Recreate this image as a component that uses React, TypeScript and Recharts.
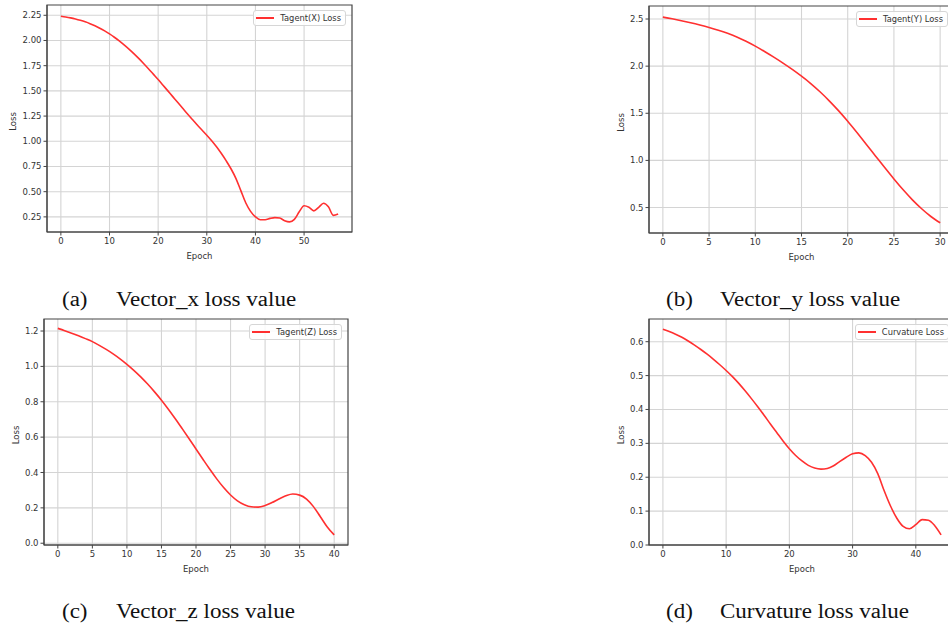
import { LineChart, Line, XAxis, YAxis, CartesianGrid, Legend, ReferenceArea } from 'recharts'

// loss per epoch
const tangentXLoss = [
  2.24, 2.233, 2.224, 2.213, 2.2, 2.185, 2.167, 2.146, 2.122, 2.095,
  2.065, 2.032, 1.996, 1.957, 1.915, 1.87, 1.822, 1.772, 1.72, 1.666,
  1.612, 1.556, 1.5, 1.443, 1.387, 1.33, 1.273, 1.218, 1.164, 1.112,
  1.06, 1.005, 0.945, 0.878, 0.805, 0.725, 0.63, 0.51, 0.39, 0.305,
  0.25, 0.222, 0.222, 0.235, 0.243, 0.238, 0.212, 0.2, 0.225, 0.3,
  0.36, 0.345, 0.31, 0.345, 0.385, 0.35, 0.265, 0.278,
]
const tangentYLoss = [
  2.52, 2.502, 2.482, 2.46, 2.436, 2.41, 2.381, 2.348, 2.31, 2.264,
  2.212, 2.155, 2.095, 2.032, 1.965, 1.893, 1.815, 1.728, 1.632, 1.528,
  1.415, 1.295, 1.172, 1.048, 0.924, 0.803, 0.688, 0.582, 0.487, 0.405,
  0.338,
]
const tangentZLoss = [
  1.215, 1.202, 1.188, 1.173, 1.157, 1.14, 1.119, 1.096, 1.071, 1.043,
  1.012, 0.978, 0.941, 0.9, 0.856, 0.809, 0.758, 0.704, 0.648, 0.591,
  0.533, 0.475, 0.418, 0.364, 0.315, 0.273, 0.24, 0.218, 0.206, 0.204,
  0.213, 0.23, 0.25, 0.268, 0.278, 0.272, 0.25, 0.207, 0.15, 0.092,
  0.047,
]
const curvatureLoss = [
  0.637, 0.63, 0.622, 0.613, 0.602, 0.59, 0.577, 0.563, 0.548, 0.532,
  0.515, 0.497, 0.477, 0.455, 0.432, 0.408, 0.383, 0.357, 0.332, 0.307,
  0.284, 0.264, 0.248, 0.235, 0.227, 0.224, 0.226, 0.234, 0.247, 0.259,
  0.269, 0.272, 0.264, 0.244, 0.21, 0.16, 0.115, 0.079, 0.055, 0.048,
  0.06, 0.075, 0.073, 0.057, 0.03,
]

const xTicksA = [0, 10, 20, 30, 40, 50]
const yTicksA = [0.25, 0.5, 0.75, 1.0, 1.25, 1.5, 1.75, 2.0, 2.25]
const xTicksB = [0, 5, 10, 15, 20, 25, 30]
const yTicksB = [0.5, 1.0, 1.5, 2.0, 2.5]
const xTicksC = [0, 5, 10, 15, 20, 25, 30, 35, 40]
const yTicksC = [0, 0.2, 0.4, 0.6, 0.8, 1.0, 1.2]
const xTicksD = [0, 10, 20, 30, 40]
const yTicksD = [0, 0.1, 0.2, 0.3, 0.4, 0.5, 0.6]

const RED = '#ff3030'
const SANS = '"DejaVu Sans", sans-serif'
const SERIF = '"Liberation Serif", "Times New Roman", serif'

type Rect = { x0: number; y0: number; x1: number; y1: number }

type PanelProps = {
  values: number[]
  name: string
  left: number
  top: number
  width: number
  height: number
  plot: Rect
  xDomain: [number, number]
  yDomain: [number, number]
  xTicks: number[]
  yTicks: number[]
  digits: number
  lossGap: number
}

function LegendBox({ payload }: any) {
  const item = payload && payload[0]
  if (!item) return null
  return (
    <div
      style={{
        display: 'flex', alignItems: 'center', height: 14, padding: '0 4px 0 2px',
        border: '1px solid #d6d6d6', borderRadius: 3, background: 'rgba(255,255,255,0.85)',
        fontFamily: SANS, fontSize: 8.3, color: '#333', whiteSpace: 'nowrap',
      }}
    >
      <span style={{ display: 'inline-block', width: 18, height: 2, background: RED, marginRight: 6 }} />
      {item.value}
    </div>
  )
}

function Panel(p: PanelProps) {
  const data = p.values.map((v, i) => ({ epoch: i, loss: v }))
  const plotW = p.plot.x1 - p.left
  const tickStyle = { fontSize: 8.5, fill: '#333', fontFamily: SANS }
  return (
    <div style={{ position: 'absolute', left: p.left, top: p.top }}>
      <LineChart
        width={p.width}
        height={p.height}
        data={data}
        margin={{ top: p.plot.y0 - p.top, right: p.width - plotW, left: 0, bottom: 0 }}
      >
        <CartesianGrid stroke="#d4d4d4" strokeWidth={1.1} horizontalValues={p.yTicks} verticalValues={p.xTicks} />
        <XAxis
          type="number"
          dataKey="epoch"
          domain={p.xDomain}
          ticks={p.xTicks}
          allowDataOverflow
          height={p.top + p.height - p.plot.y1}
          tick={tickStyle}
          tickSize={3.5}
          tickMargin={2}
          stroke="#444"
          label={{
            content: ({ viewBox }: any) => (
              <text x={viewBox.x + viewBox.width / 2} y={viewBox.y + 24} textAnchor="middle"
                dominantBaseline="central" fontSize={8.5} fill="#333" fontFamily={SANS}>Epoch</text>
            ),
          }}
        />
        <YAxis
          type="number"
          domain={p.yDomain}
          ticks={p.yTicks}
          allowDataOverflow
          width={p.plot.x0 - p.left}
          tick={tickStyle}
          tickSize={3.5}
          tickMargin={2}
          stroke="#444"
          tickFormatter={(v: number) => v.toFixed(p.digits)}
          label={{
            content: ({ viewBox }: any) => {
              const cx = viewBox.x + viewBox.width - p.lossGap
              const cy = viewBox.y + viewBox.height / 2 + 3
              return (
                <text x={cx} y={cy} textAnchor="middle" dominantBaseline="central"
                  transform={`rotate(-90 ${cx} ${cy})`} fontSize={8.5} fill="#333" fontFamily={SANS}>Loss</text>
              )
            },
          }}
        />
        <ReferenceArea
          x1={p.xDomain[0]} x2={p.xDomain[1]} y1={p.yDomain[0]} y2={p.yDomain[1]}
          fill="none" stroke="#444" strokeWidth={1.2} fillOpacity={0} ifOverflow="visible"
        />
        <Legend
          layout="horizontal"
          verticalAlign="middle"
          align="center"
          content={<LegendBox />}
          wrapperStyle={{ top: p.plot.y0 - p.top + 5, right: p.width - plotW + 6, left: 'auto', width: 'auto', height: 'auto' }}
        />
        <Line
          type="monotone"
          dataKey="loss"
          name={p.name}
          stroke={RED}
          strokeWidth={1.6}
          dot={false}
          isAnimationActive={false}
        />
      </LineChart>
    </div>
  )
}

function Caption({ tag, text, left, top }: { tag: string; text: string; left: number; top: number }) {
  const style = {
    position: 'absolute' as const, top, fontFamily: SERIF, fontSize: 20, lineHeight: '20px',
    color: '#111', whiteSpace: 'nowrap' as const, transform: 'scaleX(1.15)', transformOrigin: 'left center',
  }
  return (
    <>
      <div style={{ ...style, left }}>{tag}</div>
      <div style={{ ...style, left: left + 54 }}>{text}</div>
    </>
  )
}

export default function App() {
  return (
    <div style={{ position: 'absolute', left: 0, top: 0, width: 948, height: 626, overflow: 'hidden', background: '#fff' }}>
      <Panel values={tangentXLoss} name="Tagent(X) Loss" left={0} top={0} width={360} height={270}
        plot={{ x0: 47, y0: 5, x1: 352, y1: 232 }} xDomain={[-2.85, 59.85]} yDomain={[0.1, 2.352]}
        xTicks={xTicksA} yTicks={yTicksA} digits={2} lossGap={34} />
      <Panel values={tangentYLoss} name="Tagent(Y) Loss" left={600} top={0} width={362} height={270}
        plot={{ x0: 649, y0: 6, x1: 954, y1: 233 }} xDomain={[-1.5, 31.5]} yDomain={[0.23, 2.638]}
        xTicks={xTicksB} yTicks={yTicksB} digits={1} lossGap={28} />
      <Panel values={tangentZLoss} name="Tagent(Z) Loss" left={0} top={315} width={360} height={270}
        plot={{ x0: 44, y0: 319, x1: 348, y1: 545 }} xDomain={[-2, 42]} yDomain={[-0.01, 1.268]}
        xTicks={xTicksC} yTicks={yTicksC} digits={1} lossGap={28} />
      <Panel values={curvatureLoss} name="Curvature Loss" left={600} top={315} width={362} height={270}
        plot={{ x0: 649, y0: 319, x1: 955, y1: 545 }} xDomain={[-2.2, 46.2]} yDomain={[0, 0.667]}
        xTicks={xTicksD} yTicks={yTicksD} digits={1} lossGap={28} />

      <Caption tag="(a)" text="Vector_x loss value" left={62} top={289} />
      <Caption tag="(b)" text="Vector_y loss value" left={666} top={289} />
      <Caption tag="(c)" text="Vector_z loss value" left={62} top={601} />
      <Caption tag="(d)" text="Curvature loss value" left={666} top={601} />
    </div>
  )
}
